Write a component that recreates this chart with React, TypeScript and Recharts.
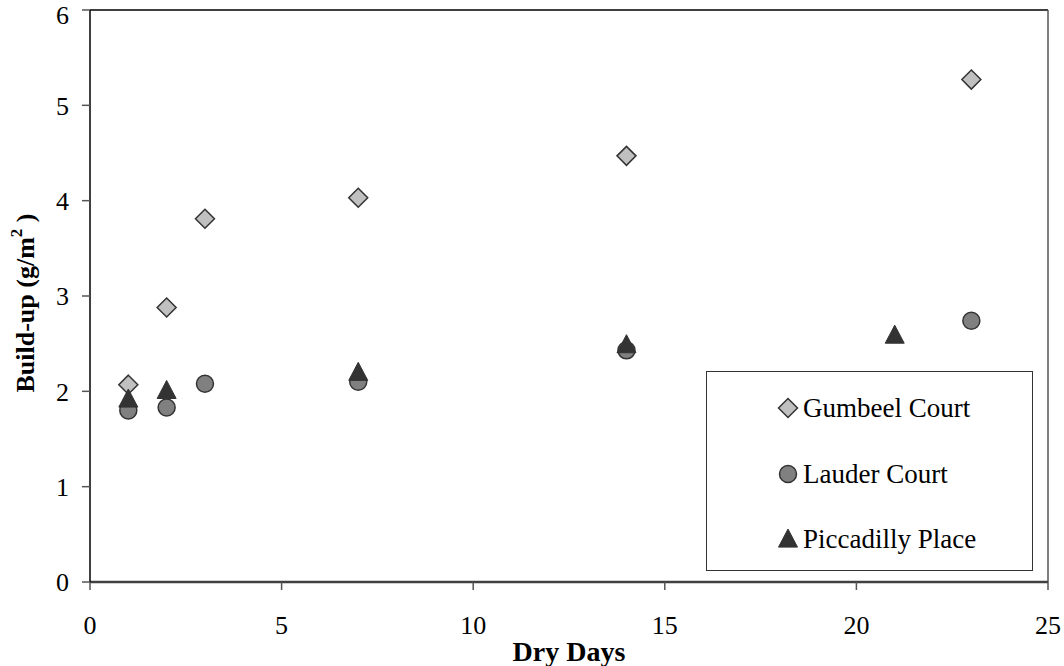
import React from "react";
import {
  ScatterChart,
  Scatter,
  XAxis,
  YAxis,
  ReferenceLine,
  Legend,
} from "recharts";

// Dry days vs. build-up load
const gumbeelDays = [1, 2, 3, 7, 14, 23];
const gumbeelLoad = [2.07, 2.88, 3.81, 4.03, 4.47, 5.27];

const lauderDays = [1, 2, 3, 7, 14, 23];
const lauderLoad = [1.8, 1.83, 2.08, 2.1, 2.43, 2.74];

const piccadillyDays = [1, 2, 7, 14, 21];
const piccadillyLoad = [1.92, 2.01, 2.2, 2.49, 2.59];

const xTicks = [0, 5, 10, 15, 20, 25];
const yTicks = [0, 1, 2, 3, 4, 5, 6];

const FONT = "Liberation Serif";

const toPoints = (xs: number[], ys: number[]) =>
  xs.map((x, i) => ({ x, y: ys[i] }));

const Diamond = ({ cx, cy, r = 9.5 }: any) => (
  <path
    d={`M${cx},${cy - r}L${cx + r},${cy}L${cx},${cy + r}L${cx - r},${cy}Z`}
    fill="#c0c0c0"
    stroke="#333333"
    strokeWidth={1.5}
  />
);

const Circle = ({ cx, cy, r = 8.5 }: any) => (
  <circle cx={cx} cy={cy} r={r} fill="#808080" stroke="#333333" strokeWidth={1.5} />
);

const Triangle = ({ cx, cy, s = 19 }: any) => {
  const h = s * 0.95;
  return (
    <path
      d={`M${cx},${cy - h * 0.55}L${cx + s / 2},${cy + h * 0.45}L${cx - s / 2},${cy + h * 0.45}Z`}
      fill="#333333"
      stroke="#333333"
      strokeWidth={1}
    />
  );
};

const series = [
  { name: "Gumbeel Court", data: toPoints(gumbeelDays, gumbeelLoad), Shape: Diamond },
  { name: "Lauder Court", data: toPoints(lauderDays, lauderLoad), Shape: Circle },
  { name: "Piccadilly Place", data: toPoints(piccadillyDays, piccadillyLoad), Shape: Triangle },
];

const LegendBox = () => (
  <div
    style={{
      width: 327,
      height: 200,
      boxSizing: "border-box",
      border: "1.5px solid #333",
      background: "#fff",
      position: "relative",
      fontFamily: FONT,
      fontSize: 27,
      color: "#000",
    }}
  >
    {series.map((s, i) => {
      const top = 36 + i * 65.5;
      return (
        <div key={s.name} style={{ position: "absolute", left: 0, top: top - 18, height: 36, width: "100%" }}>
          <svg width={24} height={36} style={{ position: "absolute", left: 69, top: 0 }}>
            <s.Shape cx={12} cy={18} />
          </svg>
          <span style={{ position: "absolute", left: 96, top: 0, lineHeight: "36px", whiteSpace: "nowrap" }}>
            {s.name}
          </span>
        </div>
      );
    })}
  </div>
);

const YTitle = ({ viewBox }: any) => {
  const cy = viewBox.y + viewBox.height / 2 + 7;
  const x = 34;
  return (
    <text
      x={x}
      y={cy}
      transform={`rotate(-90, ${x}, ${cy})`}
      textAnchor="middle"
      fontFamily={FONT}
      fontWeight="bold"
      fontSize={26}
      fill="#000"
    >
      Build-up (g/m
      <tspan fontSize={17} dy={-12}>2</tspan>
      <tspan dy={12}> )</tspan>
    </text>
  );
};

const XTitle = ({ viewBox }: any) => (
  <text
    x={viewBox.x + viewBox.width / 2}
    y={661}
    textAnchor="middle"
    fontFamily={FONT}
    fontWeight="bold"
    fontSize={28}
    fill="#000"
  >
    Dry Days
  </text>
);

export default function App() {
  const tickStyle = { fontFamily: FONT, fontSize: 26, fill: "#000" };
  return (
    <div style={{ position: "absolute", left: 0, top: 0, background: "#fff" }}>
      <ScatterChart width={1064} height={666} margin={{ top: 10, right: 16, bottom: 0, left: 0 }}>
        <XAxis
          type="number"
          dataKey="x"
          domain={[0, 25]}
          ticks={xTicks}
          height={84}
          tickSize={8}
          tickMargin={26}
          tick={tickStyle}
          axisLine={{ stroke: "#404040", strokeWidth: 2.5 }}
          tickLine={{ stroke: "#555", strokeWidth: 1.5 }}
          label={<XTitle />}
        />
        <YAxis
          type="number"
          dataKey="y"
          domain={[0, 6]}
          ticks={yTicks}
          width={90}
          tickSize={8}
          tickMargin={13}
          tick={tickStyle}
          axisLine={{ stroke: "#000", strokeWidth: 1.5 }}
          tickLine={{ stroke: "#555", strokeWidth: 1.5 }}
          label={<YTitle />}
        />
        <ReferenceLine y={6} stroke="#000" strokeWidth={1.5} />
        <ReferenceLine x={25} stroke="#555" strokeWidth={1.5} />
        {series.map((s) => (
          <Scatter
            key={s.name}
            name={s.name}
            data={s.data}
            isAnimationActive={false}
            shape={(p: any) => <s.Shape cx={p.cx} cy={p.cy} />}
          />
        ))}
        <Legend
          layout="vertical"
          align="center"
          verticalAlign="middle"
          content={<LegendBox />}
          wrapperStyle={{ left: 706, top: 371, width: 327, height: 200 }}
        />
      </ScatterChart>
    </div>
  );
}
